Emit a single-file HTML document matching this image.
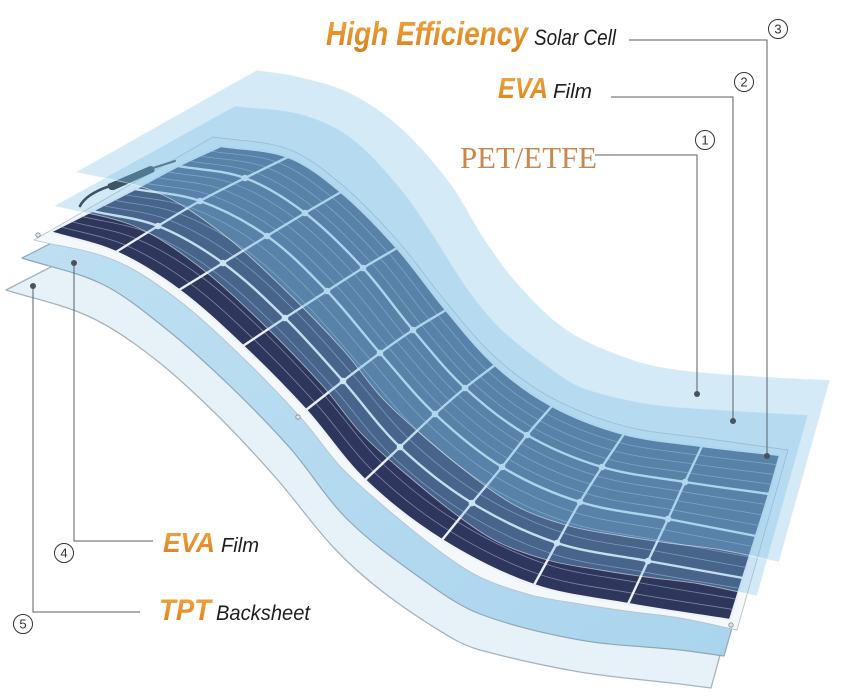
<!DOCTYPE html>
<html>
<head>
<meta charset="utf-8">
<style>
  html,body{margin:0;padding:0;background:#ffffff;}
  svg{display:block;}
</style>
</head>
<body>
<svg id="main" width="841" height="700" viewBox="0 0 841 700" xmlns="http://www.w3.org/2000/svg">
  <defs>
    <linearGradient id="org" x1="0" y1="0" x2="0" y2="1">
      <stop offset="0" stop-color="#f4a63e"/>
      <stop offset="1" stop-color="#d9801c"/>
    </linearGradient>
    <linearGradient id="l4g" x1="0" y1="0" x2="1" y2="1">
      <stop offset="0" stop-color="#c0e0f2"/>
      <stop offset="1" stop-color="#aad4ee"/>
    </linearGradient>
    <linearGradient id="cellg" x1="0" y1="1" x2="1" y2="0">
      <stop offset="0" stop-color="#34345e"/>
      <stop offset="0.6" stop-color="#2c375c"/>
      <stop offset="1" stop-color="#2e3c60"/>
    </linearGradient>
  </defs>

  <rect x="0" y="0" width="841" height="700" fill="#ffffff"/>

  <!-- Layer 5: TPT backsheet -->
  <polygon id="L5" points="6,290 88,316 151,356 214,412 276,478 334,548 383,592 450,637 480,650 580,672 680,684 711,688 760,510 676,498 598,486 526,458 469,417 420,362 371,300 315,244 262,209 187,197"
           fill="#e6f1f8" stroke="#a6b3bd" stroke-width="1.3" stroke-linejoin="round"/>

  <!-- Layer 4: EVA film (bottom) -->
  <polygon id="L4" points="22,258 102,284 165,328 228,384 290,448 348,520 426,582 480,614 580,640 680,650 724,656 774,480 690,468 612,456 540,428 483,387 434,332 385,270 329,214 276,179 201,167"
           fill="url(#l4g)" stroke="#8ea7b8" stroke-width="1.2" stroke-linejoin="round"/>

  <!-- Panel white backing -->
  <polygon id="PO" points="34,240 114,260 177,299 240,355 302,419 340,466 380,503 438,550 480,577 531,595 580,604 626,611 680,618 737,630 788,450 702,438 624,426 552,398 495,357 446,302 397,240 341,184 288,149 213,137"
           fill="#f5f8fa" stroke="#b7c3cc" stroke-width="0.9" stroke-linejoin="round"/>

  <!-- Cells area -->
  <polygon id="CE" points="50,232 116,252 179,290 243,346 306,410 365,480 442,540 534,585 628,604 730,620 743,578 756,536 769,494 780,455 702,446 624,434 552,406 495,365 446,310 397,248 341,192 288,157 221,146 178,166 135,189 92,211"
           fill="url(#cellg)" stroke="#eef2f6" stroke-width="2.2" stroke-linejoin="round"/>

  <!-- Busbars -->
  <g fill="none" stroke="#aebbd6" stroke-width="0.8" stroke-opacity="0.6" stroke-linejoin="round">
    <polyline class="smo" points="60.5,226.8 126.5,245.5 190,283.3 253.5,339 315.3,402.8 373.8,471.8 449.5,530.8 539.8,574.5 633,593.3 733.3,609.5"/>
    <polyline class="smo" points="71,221.5 137,239 201,276.5 264,332 324.5,395.5 382.5,463.5 457,521.5 545.5,564 638,582.5 736.5,599"/>
    <polyline class="smo" points="81.5,216.3 147.5,232.5 212,269.8 274.5,325 333.8,388.3 391.3,455.3 464.5,512.3 551.3,553.5 643,571.8 739.8,588.5"/>
    <polyline class="smo" points="102.8,205.5 168.5,219.8 234,256.3 295.5,311.3 352.3,374 408.8,438.8 479.5,494 562.8,532.8 653,550.5 746.3,567.5"/>
    <polyline class="smo" points="113.5,200 179,213.5 245,249.5 306,304.5 361.5,367 417.5,430.5 487,485 568.5,522.5 658,540 749.5,557"/>
    <polyline class="smo" points="124.3,194.5 189.5,207.3 256,242.8 316.5,297.8 370.8,360 426.3,422.3 494.5,476 574.3,512.3 663,529.5 752.8,546.5"/>
    <polyline class="smo" points="145.8,183.3 211.3,195.3 276.5,230.3 336,285.3 388.3,347.3 442.5,407.5 508.3,459 585.5,493.3 672.3,509.8 759.3,525.5"/>
    <polyline class="smo" points="156.5,177.5 222.5,189.5 286,224.5 345,279.5 396.5,341.5 450,401 514.5,451 591,484.5 676.5,500.5 762.5,515"/>
    <polyline class="smo" points="167.3,171.8 233.8,183.8 295.5,218.8 354,273.8 404.8,335.8 457.5,394.5 520.8,443 596.5,475.8 680.8,491.3 765.8,504.5"/>
    <polyline class="smo" points="188.8,161 255.8,172.8 314,207.8 371.5,263 421.3,325 472.5,382.3 533.3,427.8 607.5,458.8 689.3,473 771.8,484.3"/>
    <polyline class="smo" points="199.5,156 266.5,167.5 323,202.5 380,258 429.5,320 480,376.5 539.5,420.5 613,450.5 693.5,464 774.5,474.5"/>
    <polyline class="smo" points="210.3,151 277.3,162.3 332,197.3 388.5,253 437.8,315 487.5,370.8 545.8,413.3 618.5,442.3 697.8,455 777.3,464.8"/>
  </g>

  <!-- Grid gaps -->
  <g fill="none" stroke="#e9eff4" stroke-width="2.4" stroke-linejoin="round" stroke-linecap="round">
    <polyline class="smo" points="92,211 158,226 223,263 285,318 343,381 400,447 472,503 557,543 648,561 743,578"/>
    <polyline class="smo" points="135,189 200,201 267,236 327,291 380,353 435,414 502,467 580,502 668,519 756,536"/>
    <polyline class="smo" points="178,166 245,178 305,213 363,268 413,330 465,388 527,435 602,467 685,482 769,494"/>
    <polyline class="smo" points="116,252 158,226 200,201 245,178 288,157"/>
    <polyline class="smo" points="179,290 223,263 267,236 305,213 341,192"/>
    <polyline class="smo" points="243,346 285,318 327,291 363,268 397,248"/>
    <polyline class="smo" points="306,410 343,381 380,353 413,330 446,310"/>
    <polyline class="smo" points="365,480 400,447 435,414 465,388 495,365"/>
    <polyline class="smo" points="442,540 472,503 502,467 527,435 552,406"/>
    <polyline class="smo" points="534,585 557,543 580,502 602,467 624,434"/>
    <polyline class="smo" points="628,604 648,561 668,519 685,482 702,446"/>
  </g>
  <g fill="#f2f6f9">
    <circle cx="158" cy="226" r="3.3"/><circle cx="200" cy="201" r="3.3"/><circle cx="245" cy="178" r="3.3"/>
    <circle cx="223" cy="263" r="3.3"/><circle cx="267" cy="236" r="3.3"/><circle cx="305" cy="213" r="3.3"/>
    <circle cx="285" cy="318" r="3.3"/><circle cx="327" cy="291" r="3.3"/><circle cx="363" cy="268" r="3.3"/>
    <circle cx="343" cy="381" r="3.3"/><circle cx="380" cy="353" r="3.3"/><circle cx="413" cy="330" r="3.3"/>
    <circle cx="400" cy="447" r="3.3"/><circle cx="435" cy="414" r="3.3"/><circle cx="465" cy="388" r="3.3"/>
    <circle cx="472" cy="503" r="3.3"/><circle cx="502" cy="467" r="3.3"/><circle cx="527" cy="435" r="3.3"/>
    <circle cx="557" cy="543" r="3.3"/><circle cx="580" cy="502" r="3.3"/><circle cx="602" cy="467" r="3.3"/>
    <circle cx="648" cy="561" r="3.3"/><circle cx="668" cy="519" r="3.3"/><circle cx="685" cy="482" r="3.3"/>
  </g>

  <!-- holes -->
  <g fill="#dfe5ea" stroke="#7f8a94" stroke-width="0.8">
    <circle cx="38" cy="235" r="2.2"/>
    <circle cx="298" cy="417" r="2.2"/>
    <circle cx="731" cy="625" r="2.2"/>
  </g>

  <!-- cable + junction box -->
  <path d="M80,206 C84,198 95,191 110,186" fill="none" stroke="#1c1e24" stroke-width="2.6" stroke-linecap="round"/>
  <path d="M108,184 L150,166 Q156,166 154,172 L114,190 Q107,191 108,184 Z" fill="#1e2127"/>
  <path d="M153,168 L175,161" fill="none" stroke="#2a2d33" stroke-width="2" stroke-linecap="round"/>

  <!-- Layer 2: EVA (top, translucent) -->
  <polygon id="L2" points="54,206 134,226 197,265 260,321 322,385 360,432 400,469 458,516 500,543 551,561 600,570 646,577 700,584 757,596 808,415 722,410 650,404 583,388 550,368 500,328 467,288 433,235 400,188 350,137 300,114 235,106"
           fill="#7cbfe6" fill-opacity="0.34" stroke="#ffffff" stroke-opacity="0.55" stroke-width="0.9" stroke-linejoin="round"/>

  <!-- Layer 1: PET/ETFE (top, translucent) -->
  <polygon id="L1" points="76,172 156,192 219,231 282,287 344,351 382,398 422,435 480,482 522,509 573,527 622,536 668,543 722,550 779,562 830,380 753,376 680,370 633,360 567,330 517,283 483,237 450,183 400,127 350,93 300,77 257,70"
           fill="#7cbfe6" fill-opacity="0.33" stroke="#ffffff" stroke-opacity="0.55" stroke-width="0.9" stroke-linejoin="round"/>

  <!-- Leader lines -->
  <g fill="none" stroke="#5a5f64" stroke-width="1">
    <polyline points="595,155 697,155 697,394"/>
    <polyline points="611,97 733,97 733,421"/>
    <polyline points="629,40 767,40 767,456"/>
    <polyline points="153,541 74,541 74,263"/>
    <polyline points="140,612 33,612 33,286"/>
  </g>
  <g fill="#4a535b">
    <circle cx="697" cy="394" r="3"/>
    <circle cx="733" cy="421" r="3"/>
    <circle cx="767" cy="456" r="3"/>
    <circle cx="74" cy="263" r="3"/>
    <circle cx="33" cy="286" r="3"/>
  </g>

  <!-- Circled numbers -->
  <g fill="#ffffff" stroke="#333333" stroke-width="1">
    <circle cx="705" cy="140" r="9.5"/>
    <circle cx="744" cy="82" r="9.5"/>
    <circle cx="778" cy="29" r="9.5"/>
    <circle cx="64" cy="553" r="9.5"/>
    <circle cx="23" cy="624" r="9.5"/>
  </g>
  <g font-family="Liberation Sans, sans-serif" font-size="13" fill="#333333" text-anchor="middle">
    <text x="705" y="144.5">1</text>
    <text x="744" y="86.5">2</text>
    <text x="778" y="33.5">3</text>
    <text x="64" y="557.5">4</text>
    <text x="23" y="628.5">5</text>
  </g>

  <!-- Labels -->
  <g font-family="Liberation Sans, sans-serif">
    <text x="326" y="45" font-size="33" font-weight="bold" font-style="italic" fill="url(#org)" textLength="202" lengthAdjust="spacingAndGlyphs">High Efficiency</text>
    <text x="534" y="45" font-size="22" font-style="italic" fill="#1e1e1e" textLength="82" lengthAdjust="spacingAndGlyphs">Solar Cell</text>

    <text x="498" y="98" font-size="29" font-weight="bold" font-style="italic" fill="url(#org)" textLength="50" lengthAdjust="spacingAndGlyphs">EVA</text>
    <text x="553" y="98" font-size="20" font-style="italic" fill="#1e1e1e" textLength="39" lengthAdjust="spacingAndGlyphs">Film</text>

    <text x="163" y="552" font-size="28" font-weight="bold" font-style="italic" fill="url(#org)" textLength="52" lengthAdjust="spacingAndGlyphs">EVA</text>
    <text x="221" y="552" font-size="20" font-style="italic" fill="#1e1e1e" textLength="38" lengthAdjust="spacingAndGlyphs">Film</text>

    <text x="159" y="620" font-size="30" font-weight="bold" font-style="italic" fill="url(#org)" textLength="52" lengthAdjust="spacingAndGlyphs">TPT</text>
    <text x="216" y="620" font-size="21" font-style="italic" fill="#1e1e1e" textLength="94" lengthAdjust="spacingAndGlyphs">Backsheet</text>
  </g>
  <text x="460" y="168" font-family="Liberation Serif, serif" font-size="31" fill="#c8874f" textLength="137" lengthAdjust="spacingAndGlyphs">PET/ETFE</text>
</svg>
<script>
(function(){
  var NS='http://www.w3.org/2000/svg';
  function smooth(el, corners, closed){
    var raw=el.getAttribute('points').trim().split(/\s+/).map(function(p){return p.split(',').map(Number);});
    var n=raw.length; if(n<3) return;
    var cs={}; corners.forEach(function(c){cs[c]=1;});
    function P(i){ return raw[((i%n)+n)%n]; }
    function len(a,b){ return Math.sqrt((b[0]-a[0])*(b[0]-a[0])+(b[1]-a[1])*(b[1]-a[1])); }
    function tangent(i, segA, segB){
      // returns tangent at point i scaled to length of segment (segA->segB)
      var L=len(segA,segB), d;
      var isEnd = !closed && (i===0 || i===n-1);
      if(isEnd || cs[i]){
        d=[segB[0]-segA[0], segB[1]-segA[1]];
      } else {
        var pr=P(i-1), nx=P(i+1);
        d=[nx[0]-pr[0], nx[1]-pr[1]];
      }
      var m=Math.sqrt(d[0]*d[0]+d[1]*d[1])||1;
      return [d[0]/m*L, d[1]/m*L];
    }
    var d='M'+P(0)[0]+','+P(0)[1];
    var segs=closed?n:n-1;
    for(var i=0;i<segs;i++){
      var a=P(i), b=P(i+1);
      var t1=tangent(i,a,b), t2=tangent((i+1)%n,a,b);
      d+=' C'+(a[0]+t1[0]/3).toFixed(1)+','+(a[1]+t1[1]/3).toFixed(1)+' '+(b[0]-t2[0]/3).toFixed(1)+','+(b[1]-t2[1]/3).toFixed(1)+' '+b[0]+','+b[1];
    }
    if(closed) d+=' Z';
    var path=document.createElementNS(NS,'path');
    for(var k=0;k<el.attributes.length;k++){
      var at=el.attributes[k];
      if(at.name!=='points' && at.name!=='class' && at.name!=='id') path.setAttribute(at.name, at.value);
    }
    path.setAttribute('d', d);
    el.parentNode.replaceChild(path, el);
  }
  try{
    var spec={L5:[0,11,12,21], L4:[0,10,11,20], PO:[0,13,14,23], CE:[0,9,13,22], L2:[0,13,14,25], L1:[0,13,14,25]};
    for(var id in spec){ var e=document.getElementById(id); if(e) smooth(e, spec[id], true); }
    var ls=document.querySelectorAll('polyline.smo');
    for(var j=0;j<ls.length;j++){ smooth(ls[j], [], false); }
  }catch(err){}
})();
</script>
</body>
</html>
